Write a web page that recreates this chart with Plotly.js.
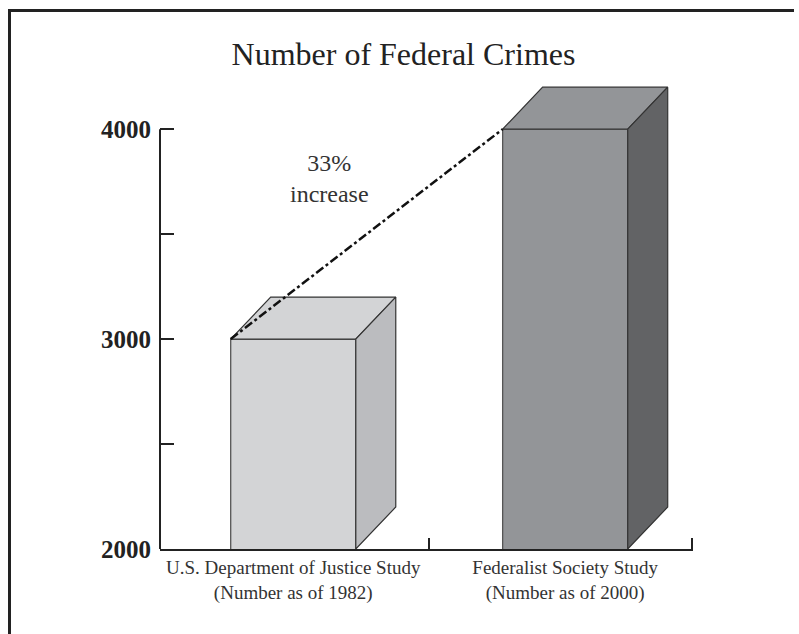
<!DOCTYPE html>
<html>
<head>
<meta charset="utf-8">
<script src="https://cdn.plot.ly/plotly-3.0.1.min.js"></script>
<style>
html,body{margin:0;padding:0;background:#fff;overflow:hidden;}
#wrap{position:relative;width:799px;height:634px;overflow:hidden;}
#chart{position:absolute;left:0;top:0;width:799px;height:634px;}
#ftop{position:absolute;left:8px;top:9px;width:786px;height:3px;background:#222;pointer-events:none;}
#fleft{position:absolute;left:8px;top:9px;width:3px;height:625px;background:#222;pointer-events:none;}
</style>
</head>
<body>
<div id="wrap"><div id="chart"></div><div id="ftop"></div><div id="fleft"></div></div>
<script>
// ---- data ----
var categories = ["U.S. Department of Justice Study<br>(Number as of 1982)",
                  "Federalist Society Study<br>(Number as of 2000)"];
var values = [3000, 4000];
var yTickVals = [2000, 3000, 4000];
var yTickText = ["2000", "3000", "4000"];
var yMinorVals = [2500, 3500];
var frontColors = ["#d3d4d6", "#939598"];
var topColors = ["#d3d4d6", "#939598"];
var sideColors = ["#bbbcbf", "#626365"];
var title = "Number of Federal Crimes";

// ---- geometry (styling) ----
var base = 2000;
var barW = 0.46;   // bar width in category units
var dX = 0.147;    // depth offset, x units
var dY = 200;      // depth offset, y units
var FONT = "Liberation Serif";
var xs = values.map(function (v, i) { return i; });

var traces = [];
traces.push({
  type: "bar", x: xs, y: values, width: barW,
  marker: { color: frontColors, line: { color: "#555", width: 1.3 } },
  hoverinfo: "none", showlegend: false
});
values.forEach(function (v, i) {
  var l = i - barW / 2, r = i + barW / 2;
  traces.push({
    type: "scatter", mode: "lines", fill: "toself", fillcolor: topColors[i],
    x: [l, r, r + dX, l + dX, l], y: [v, v, v + dY, v + dY, v],
    line: { color: "#333", width: 1.2 }, hoverinfo: "none", showlegend: false
  });
  traces.push({
    type: "scatter", mode: "lines", fill: "toself", fillcolor: sideColors[i],
    x: [r, r + dX, r + dX, r, r], y: [base, base + dY, v + dY, v, base],
    line: { color: "#333", width: 1.2 }, hoverinfo: "none", showlegend: false
  });
});
traces.push({
  type: "scatter", mode: "lines",
  x: [0 - barW / 2, 1 - barW / 2], y: [values[0], values[1]],
  line: { color: "#111", width: 2.5, dash: "dashdot" },
  hoverinfo: "none", showlegend: false
});

var pct = Math.round((values[1] - values[0]) / values[0] * 100);

var layout = {
  width: 799, height: 634,
  margin: { l: 160, r: 106, t: 83, b: 85 },
  paper_bgcolor: "rgba(0,0,0,0)", plot_bgcolor: "rgba(0,0,0,0)",
  showlegend: false,
  title: { text: title, x: 0.505, xanchor: "center", y: 0.915, yanchor: "middle",
           font: { family: FONT, size: 32, color: "#222" } },
  xaxis: {
    type: "linear", range: [-0.49, 1.47], tickmode: "array", tickvals: xs, ticktext: categories,
    ticks: "", showgrid: false, zeroline: false,
    showline: true, linecolor: "#222", linewidth: 2,
    tickfont: { family: FONT, size: 19, color: "#333" },
    minor: { tickmode: "array", tickvals: [0.5, 1.468], ticks: "inside", ticklen: 11, tickwidth: 2, tickcolor: "#222", showgrid: false },
    fixedrange: true
  },
  yaxis: {
    range: [base, 4220], tickmode: "array", tickvals: yTickVals, ticktext: yTickText,
    ticks: "inside", ticklen: 14, tickwidth: 2, tickcolor: "#222",
    showgrid: false, zeroline: false, showline: false,
    tickfont: { family: FONT, size: 25, color: "#222", weight: "bold" },
    minor: { tickmode: "array", tickvals: yMinorVals, ticks: "inside", ticklen: 14, tickwidth: 2, tickcolor: "#222", showgrid: false },
    ticklabelstandoff: 8,
    fixedrange: true
  },
  shapes: [
    { type: "line", xref: "paper", yref: "y", x0: 0, x1: 0, y0: base, y1: yTickVals[yTickVals.length - 1],
      line: { color: "#222", width: 2 } }
  ],
  annotations: [
    { xref: "x", yref: "y", x: 0.134, y: 3767, text: pct + "%<br>increase", showarrow: false,
      font: { family: FONT, size: 24, color: "#333" }, align: "center" }
  ]
};

Plotly.newPlot("chart", traces, layout, { displayModeBar: false, staticPlot: true });
</script>
</body>
</html>
